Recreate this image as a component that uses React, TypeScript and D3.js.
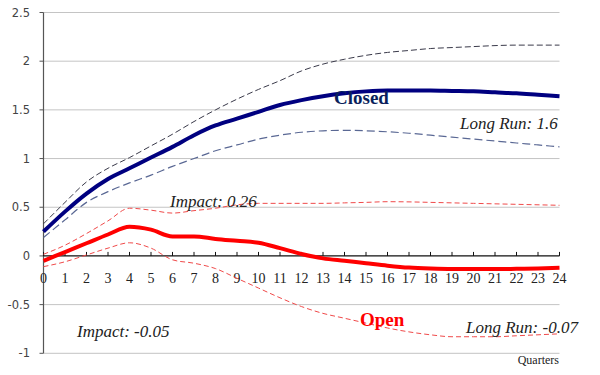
import React from 'react'
import * as d3 from 'd3'

// quarters 0..24
const quarters = d3.range(0, 25)
const yTicks = [-1, -0.5, 0, 0.5, 1, 1.5, 2, 2.5]

// closed economy response and bands
const closedMean = [0.25, 0.455, 0.64, 0.79, 0.9, 1.01, 1.12, 1.24, 1.34, 1.41, 1.48, 1.55, 1.6, 1.64, 1.67, 1.69, 1.7, 1.7, 1.7, 1.695, 1.69, 1.68, 1.67, 1.655, 1.64]
const closedUpper = [0.33, 0.55, 0.76, 0.9, 1.01, 1.13, 1.25, 1.38, 1.5, 1.61, 1.71, 1.8, 1.9, 1.97, 2.02, 2.06, 2.09, 2.11, 2.13, 2.14, 2.15, 2.16, 2.165, 2.165, 2.165]
const closedLower = [0.19, 0.37, 0.55, 0.66, 0.75, 0.83, 0.92, 1.0, 1.08, 1.14, 1.2, 1.24, 1.27, 1.285, 1.29, 1.285, 1.275, 1.26, 1.24, 1.22, 1.2, 1.18, 1.16, 1.14, 1.12]

// open economy response and bands
const openMean = [-0.05, 0.04, 0.13, 0.22, 0.3, 0.27, 0.2, 0.2, 0.175, 0.155, 0.135, 0.08, 0.02, -0.025, -0.05, -0.075, -0.1, -0.12, -0.13, -0.135, -0.135, -0.135, -0.132, -0.128, -0.122]
const openUpper = [0.017, 0.11, 0.23, 0.36, 0.49, 0.47, 0.44, 0.465, 0.49, 0.525, 0.54, 0.54, 0.54, 0.54, 0.545, 0.55, 0.557, 0.555, 0.55, 0.545, 0.54, 0.535, 0.53, 0.525, 0.52]
const openLower = [-0.11, -0.06, 0.01, 0.08, 0.135, 0.08, -0.04, -0.075, -0.13, -0.23, -0.33, -0.43, -0.52, -0.59, -0.64, -0.69, -0.74, -0.78, -0.81, -0.83, -0.83, -0.83, -0.82, -0.81, -0.8]

const W = 600
const H = 375

export default function App() {
  const x = d3.scaleLinear().domain([0, 24]).range([43.5, 559.5])
  const y = d3.scaleLinear().domain([-1, 2.5]).range([353.3, 12.5])

  const line = d3.line<number>()
    .x((_, i) => x(quarters[i]))
    .y(d => y(d))
    .curve(d3.curveMonotoneX)

  const serif = "'Liberation Serif', 'DejaVu Serif', 'Noto Serif', Tinos, 'Times New Roman', Times, Georgia, serif"
  const sans = "'DejaVu Sans', Verdana, sans-serif"

  return (
    <svg width={W} height={H} style={{ position: 'absolute', left: 0, top: 0, background: '#fff' }}>
      {/* gridlines */}
      {yTicks.filter(t => t !== 0).map(t => (
        <line key={'g' + t} x1={x(0)} x2={x(24)} y1={y(t)} y2={y(t)} stroke="#c4c4c4" strokeWidth={1} />
      ))}
      {/* y axis */}
      <line x1={x(0)} x2={x(0)} y1={y(2.5)} y2={y(-1)} stroke="#555" strokeWidth={1.2} />
      {yTicks.map(t => (
        <g key={'yt' + t}>
          <line x1={x(0) - 4} x2={x(0)} y1={y(t)} y2={y(t)} stroke="#555" />
          <text x={30} y={y(t) + 4} textAnchor="end" style={{ fontFamily: sans }} fontSize={11.5} fill="#444">{t}</text>
        </g>
      ))}
      {/* x axis at zero */}
      <line x1={x(0)} x2={x(24)} y1={y(0)} y2={y(0)} stroke="#111" strokeWidth={1.2} />
      {quarters.map(q => (
        <g key={'xt' + q}>
          <line x1={x(q)} x2={x(q)} y1={y(0) - 4} y2={y(0)} stroke="#111" />
          <text x={x(q)} y={y(0) + 27} textAnchor="middle" style={{ fontFamily: serif }} fontSize={14} fill="#222">{q}</text>
        </g>
      ))}

      {/* bands */}
      <path d={line(closedUpper) ?? ''} fill="none" stroke="#3a3a4a" strokeWidth={1} strokeDasharray="6 3" />
      <path d={line(closedLower) ?? ''} fill="none" stroke="#5a6894" strokeWidth={1.2} strokeDasharray="8 4" />
      <path d={line(openUpper) ?? ''} fill="none" stroke="#f04a4a" strokeWidth={1} strokeDasharray="5 3" />
      <path d={line(openLower) ?? ''} fill="none" stroke="#f04a4a" strokeWidth={1} strokeDasharray="5 3" />

      {/* means */}
      <path d={line(closedMean) ?? ''} fill="none" stroke="#000080" strokeWidth={4} />
      <path d={line(openMean) ?? ''} fill="none" stroke="#ff0000" strokeWidth={4} />

      {/* annotations */}
      <g style={{ fontFamily: serif }}>
        <text x={334} y={104} fontWeight="bold" fontSize={19} fill="#0a1f5c">Closed</text>
        <text x={460} y={129} fontStyle="italic" fontSize={17} fill="#222">Long Run: 1.6</text>
        <text x={170} y={207} fontStyle="italic" fontSize={17} fill="#222">Impact: 0.26</text>
        <text x={77} y={337} fontStyle="italic" fontSize={17} fill="#222">Impact: -0.05</text>
        <text x={360} y={326} fontWeight="bold" fontSize={19} fill="#ff0000">Open</text>
        <text x={466} y={333} fontStyle="italic" fontSize={17} fill="#222">Long Run: -0.07</text>
        <text x={559} y={364} textAnchor="end" fontSize={12} fill="#222">Quarters</text>
      </g>
    </svg>
  )
}
